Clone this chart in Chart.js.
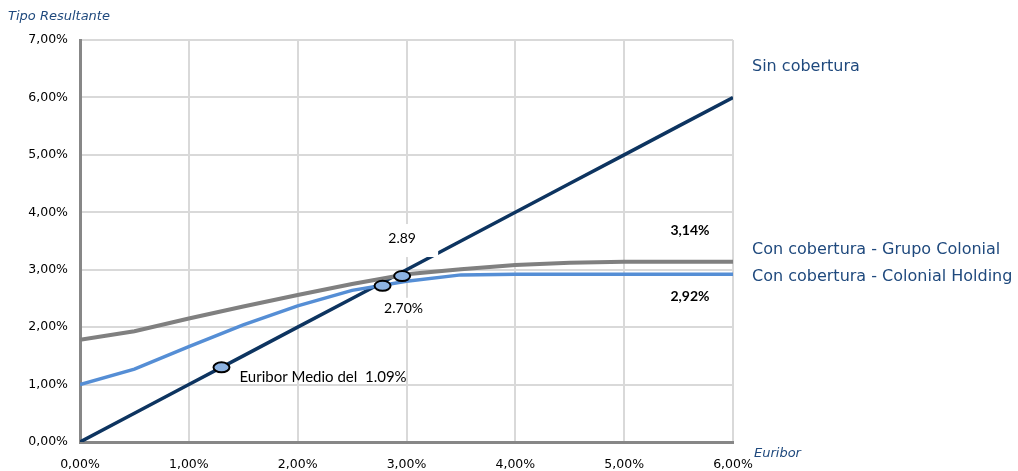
<!DOCTYPE html>
<html><head><meta charset="utf-8">
<script src="https://cdn.jsdelivr.net/npm/chart.js@4.4.0/dist/chart.umd.min.js"></script>
<style>html,body{margin:0;padding:0;background:#fff;}#wrap{width:1018px;height:471px;position:relative;}</style>
</head><body><div id="wrap"><canvas id="c" width="1018" height="471"></canvas></div>
<script>
const euribor = [0, 0.5, 1, 1.5, 2, 2.5, 3, 3.5, 4, 4.5, 5, 5.5, 6];
const sinCobertura = [0, 0.5, 1, 1.5, 2, 2.5, 3, 3.5, 4, 4.5, 5, 5.5, 6];
const grupoColonial = [1.78, 1.93, 2.15, 2.36, 2.56, 2.75, 2.92, 3.01, 3.08, 3.12, 3.14, 3.14, 3.14];
const colonialHolding = [1.00, 1.27, 1.66, 2.04, 2.37, 2.64, 2.80, 2.91, 2.92, 2.92, 2.92, 2.92, 2.92];
const seriesNames = ["Sin cobertura", "Con cobertura - Grupo Colonial", "Con cobertura - Colonial Holding"];
const markerX = [1.30, 2.78, 2.96];
const markerY = [1.30, 2.72, 2.89];
const markerLabels = ["Euribor Medio del  1.09%", "2.70%", "2.89"];
const endLabels = ["3,14%", "2,92%"];
const yTitle = "Tipo Resultante";
const xTitle = "Euribor";

const pts = (xs, ys) => xs.map((x, i) => ({x: x, y: ys[i]}));
const fmt = v => v.toFixed(2).replace('.', ',') + '%';

const overlay = {
  id: 'overlay',
  afterDatasetsDraw(chart) {
    const ctx = chart.ctx, xs = chart.scales.x, ys = chart.scales.y;
    const ca = chart.chartArea;
    ctx.save();
    const p2x = xs.getPixelForValue(markerX[2]), p2y = ys.getPixelForValue(markerY[2]);
    const p1x = xs.getPixelForValue(markerX[1]), p1y = ys.getPixelForValue(markerY[1]);
    ctx.fillStyle = '#fff';
    ctx.fillRect(p2x - 26, p2y - 52, 62, 33);
    ctx.fillRect(p1x - 6, p1y + 12, 56, 22);
    for (let i = 0; i < markerX.length; i++) {
      const px = xs.getPixelForValue(markerX[i]), py = ys.getPixelForValue(markerY[i]);
      ctx.beginPath();
      ctx.ellipse(px, py, 8, 5, 0, 0, Math.PI * 2);
      ctx.fillStyle = '#8DB3E2';
      ctx.fill();
      ctx.lineWidth = 2;
      ctx.strokeStyle = '#000';
      ctx.stroke();
    }
    ctx.fillStyle = '#000';
    ctx.textBaseline = 'middle';
    ctx.textAlign = 'left';
    ctx.font = '15px Lato';
    const m0x = xs.getPixelForValue(markerX[0]), m0y = ys.getPixelForValue(markerY[0]);
    ctx.fillText(markerLabels[0], m0x + 18, m0y + 10);
    ctx.font = '14px Lato';
    ctx.textAlign = 'center';
    ctx.fillText(markerLabels[1], p1x + 21, p1y + 23);
    ctx.fillText(markerLabels[2], p2x, p2y - 38);
    ctx.font = 'bold 14px Lato';
    ctx.fillText(endLabels[0], ca.right - 43, ys.getPixelForValue(grupoColonial[grupoColonial.length - 1]) - 31);
    ctx.fillText(endLabels[1], ca.right - 43, ys.getPixelForValue(colonialHolding[colonialHolding.length - 1]) + 22);
    ctx.fillStyle = '#1F497D';
    ctx.font = '16px "DejaVu Sans"';
    ctx.textAlign = 'left';
    const tx = ca.right + 19;
    ctx.fillText(seriesNames[0], tx, 67);
    ctx.fillText(seriesNames[1], tx, 250);
    ctx.fillText(seriesNames[2], tx, 277);
    ctx.font = 'italic 13px "DejaVu Sans"';
    ctx.fillText(yTitle, 8, 17);
    ctx.fillText(xTitle, ca.right + 21, ca.bottom + 12);
    ctx.restore();
  }
};

new Chart(document.getElementById('c'), {
  type: 'scatter',
  data: {
    datasets: [
      {label: seriesNames[1], data: pts(euribor, grupoColonial), showLine: true, borderColor: '#808080', borderWidth: 4, pointRadius: 0, tension: 0},
      {label: seriesNames[2], data: pts(euribor, colonialHolding), showLine: true, borderColor: '#558ED5', borderWidth: 3.5, pointRadius: 0, tension: 0},
      {label: seriesNames[0], data: pts(euribor, sinCobertura), showLine: true, borderColor: '#0D3460', borderWidth: 3.5, pointRadius: 0, tension: 0}
    ]
  },
  options: {
    responsive: false,
    animation: false,
    layout: {padding: {left: 0, top: 40, right: 285, bottom: 0}},
    plugins: {legend: {display: false}, tooltip: {enabled: false}},
    scales: {
      x: {
        type: 'linear', min: 0, max: 6,
        afterFit(s) { s.height = 29; },
        ticks: {stepSize: 1, callback: v => fmt(v), color: '#000', font: {family: 'DejaVu Sans', size: 12.5}, padding: 15, maxRotation: 0},
        grid: {color: '#D9D9D9', lineWidth: 2, drawTicks: false},
        border: {color: '#878787', width: 3}
      },
      y: {
        min: 0, max: 7,
        afterFit(s) { s.width = 80; },
        ticks: {stepSize: 1, callback: v => fmt(v), color: '#000', font: {family: 'DejaVu Sans', size: 12.5}, padding: 12},
        grid: {color: '#D9D9D9', lineWidth: 2, drawTicks: false},
        border: {color: '#878787', width: 3}
      }
    }
  },
  plugins: [overlay]
});
</script></body></html>
